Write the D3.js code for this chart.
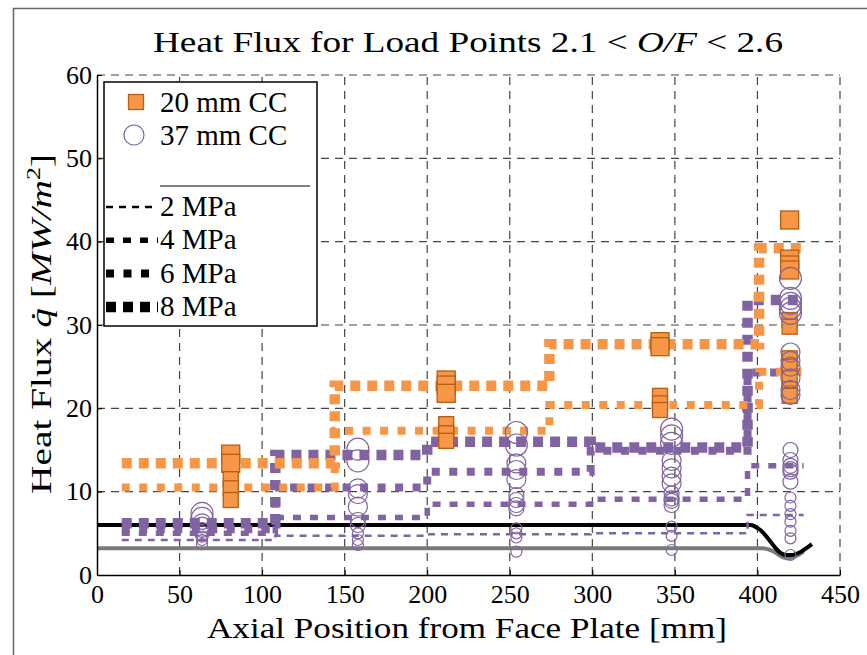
<!DOCTYPE html>
<html>
<head>
<meta charset="utf-8">
<script src="https://cdn.jsdelivr.net/npm/d3@7"></script>
<style>
body { margin: 0; background: #fff; }
text { font-family: "Liberation Serif", "Times New Roman", serif; fill: #000; }
</style>
</head>
<body>
<div id="chart"></div>
<script>
// section boundaries of the step lines [mm]
const purpleSteps = [15, 108, 200, 299, 394, 428]
const orangeSteps = [15, 144, 274, 401, 428]

// 37 mm CC, heat flux per section [MW/m2]
const purple2MPa = [4.2, 4.7, 4.9, 5.0, 7.2]
const purple4MPa = [5.0, 6.9, 8.5, 9.1, 13.1]
const purple6MPa = [5.5, 10.5, 12.4, 14.9, 24.3]
const purple8MPa = [6.2, 14.4, 16.0, 15.3, 33.0]

// 20 mm CC, heat flux per section
const orange6MPa = [10.5, 17.3, 20.4, 24.4]
const orange8MPa = [13.4, 22.7, 27.7, 39.2]

// solid lines at the bottom
const blackX = [0, 396, 401, 417, 420, 433]
const blackQ = [6.0, 6.0, 5.5, 2.4, 2.4, 3.7]
const grayX = [0, 403, 409, 416, 419, 428]
const grayQ = [3.2, 3.2, 2.9, 2.1, 2.0, 2.8]

// measured points 20 mm CC (squares)
const sqX = [81, 81, 81, 81, 81, 211.5, 211.5, 211.5, 211.5, 211.5, 211.5, 341, 341, 341, 341, 341,
  419.5, 419.5, 419.5, 419.5, 419.5, 419.5, 419.5, 419.5, 419.5, 419.5, 419.5]
const sqQ = [14.5, 13.4, 11.5, 10.4, 9.0, 23.4, 22.8, 21.8, 18.1, 17.0, 16.1, 28.0, 27.4, 21.5, 20.6, 19.8,
  42.6, 37.9, 37.2, 36.6, 30.6, 29.8, 26.0, 25.0, 23.6, 22.3, 21.5]
const sqP = [8, 8, 6, 6, 6, 8, 8, 8, 6, 6, 6, 8, 8, 6, 6, 6,
  8, 8, 8, 8, 6, 6, 6, 6, 6, 6, 6]

// measured points 37 mm CC (circles)
const circX = [63.6, 63.6, 63.6, 63.6, 63.6, 63.6, 63.6, 63.6, 63.6,
  158, 158, 158, 158, 158, 158, 158, 158, 158, 158,
  254, 254, 254, 254, 254, 254, 254, 254, 254, 254, 254, 254, 254,
  348, 348, 348, 348, 348, 348, 348, 348, 348, 348, 348, 348, 348, 348,
  420, 420, 420, 420, 420, 420, 420, 420, 420, 420, 420, 420, 420, 420, 420, 420, 420, 420, 420, 420, 420, 420, 420, 420]
const circQ = [7.4, 6.8, 6.2, 5.8, 5.4, 5.0, 4.6, 4.2, 3.7,
  15.1, 13.7, 10.4, 9.7, 8.2, 6.6, 6.0, 5.0, 4.2, 3.6,
  17.1, 15.6, 13.4, 12.6, 11.5, 9.6, 9.0, 8.4, 8.0, 5.6, 5.0, 4.5, 2.8,
  17.5, 16.7, 15.8, 13.7, 12.8, 11.8, 11.0, 9.8, 9.2, 8.9, 8.4, 5.8, 4.7, 3.0,
  35.6, 33.2, 32.6, 32.0, 31.4, 26.7, 25.7, 25.0, 23.6, 22.2, 21.6, 15.0, 13.8, 13.1, 12.7, 12.4, 11.2,
  9.3, 8.3, 7.3, 6.4, 5.3, 4.4, 2.4]
const circP = [8, 8, 6, 6, 4, 4, 2, 2, 2,
  8, 8, 6, 6, 6, 4, 4, 2, 2, 2,
  8, 8, 6, 6, 6, 4, 4, 4, 4, 2, 2, 2, 2,
  8, 8, 8, 6, 6, 6, 6, 4, 4, 4, 4, 2, 2, 2,
  8, 8, 8, 8, 8, 6, 6, 6, 6, 6, 6, 4, 4, 4, 4, 4, 4,
  2, 2, 2, 2, 2, 2, 2]

const xTicks = [0, 50, 100, 150, 200, 250, 300, 350, 400, 450]
const yTicks = [0, 10, 20, 30, 40, 50, 60]
const pressures = [2, 4, 6, 8]

// ****************** Plotting Part ************************
const width = 867, height = 655
const purple = "#8064a2", orange = "#f79646", orangeEdge = "#b45f12"

// line look per chamber pressure
const lineStyle = {
  2: { w: 2.5, dash: "7,6" },
  4: { w: 5.5, dash: "8,9" },
  6: { w: 8, dash: "8,9.5" },
  8: { w: 10.5, dash: "10,7" }
}

const svg = d3.select("#chart")
  .append("svg")
  .attr("width", width)
  .attr("height", height)

// frame around the figure
svg.append("path")
  .attr("d", "M13.5,656 V8.5 H868")
  .attr("fill", "none")
  .attr("stroke", "#666")
  .attr("stroke-width", 1.5)

const x = d3.scaleLinear().domain([0, 450]).range([97, 840])
const y = d3.scaleLinear().domain([0, 60]).range([575, 75])

// dashed grid
svg.selectAll(".vgrid")
  .data(xTicks.slice(1))
  .join("line")
  .attr("x1", d => x(d)).attr("x2", d => x(d))
  .attr("y1", y(0)).attr("y2", y(60))
  .attr("stroke", "#444").attr("stroke-width", 1.2)
  .attr("stroke-dasharray", "8,6")

svg.selectAll(".hgrid")
  .data(yTicks.slice(1))
  .join("line")
  .attr("x1", x(0)).attr("x2", x(450))
  .attr("y1", d => y(d)).attr("y2", d => y(d))
  .attr("stroke", "#444").attr("stroke-width", 1.2)
  .attr("stroke-dasharray", "8,6")

// solid black and gray lines
const solid = d3.line()
  .x(d => x(d[0]))
  .y(d => y(d[1]))
  .curve(d3.curveMonotoneX)

svg.append("path")
  .attr("d", solid(d3.zip(grayX, grayQ)))
  .attr("fill", "none").attr("stroke", "#7a7a7a").attr("stroke-width", 4)

svg.append("path")
  .attr("d", solid(d3.zip(blackX, blackQ)))
  .attr("fill", "none").attr("stroke", "#000").attr("stroke-width", 4)

// step lines
const step = d3.line()
  .x(d => x(d[0]))
  .y(d => y(d[1]))
  .curve(d3.curveStepAfter)

function stepPoints(steps, vals) {
  var pts = vals.map((v, i) => [steps[i], v])
  pts.push([steps[steps.length - 1], vals[vals.length - 1]])
  return pts
}

const stepLines = [
  { c: purple, p: 2, steps: purpleSteps, v: purple2MPa },
  { c: purple, p: 4, steps: purpleSteps, v: purple4MPa },
  { c: purple, p: 6, steps: purpleSteps, v: purple6MPa },
  { c: purple, p: 8, steps: purpleSteps, v: purple8MPa },
  { c: orange, p: 6, steps: orangeSteps, v: orange6MPa },
  { c: orange, p: 8, steps: orangeSteps, v: orange8MPa }
]

svg.selectAll(".steps")
  .data(stepLines)
  .join("path")
  .attr("d", d => step(stepPoints(d.steps, d.v)))
  .attr("fill", "none")
  .attr("stroke", d => d.c)
  .attr("stroke-width", d => lineStyle[d.p].w)
  .attr("stroke-dasharray", d => lineStyle[d.p].dash)

// squares 20 mm CC
const sqSize = d3.scaleOrdinal().domain([6, 8]).range([15, 18])
svg.selectAll(".sq")
  .data(d3.range(sqX.length))
  .join("rect")
  .attr("x", i => x(sqX[i]) - sqSize(sqP[i]) / 2)
  .attr("y", i => y(sqQ[i]) - sqSize(sqP[i]) / 2)
  .attr("width", i => sqSize(sqP[i]))
  .attr("height", i => sqSize(sqP[i]))
  .attr("fill", orange)
  .attr("stroke", orangeEdge)
  .attr("stroke-width", 1.3)

// circles 37 mm CC
const circR = d3.scaleOrdinal().domain(pressures).range([5.5, 7.5, 9.5, 11])
svg.selectAll(".circ")
  .data(d3.range(circX.length))
  .join("circle")
  .attr("cx", i => x(circX[i]))
  .attr("cy", i => y(circQ[i]))
  .attr("r", i => circR(circP[i]))
  .attr("fill", "none")
  .attr("stroke", purple)
  .attr("stroke-width", 1.2)

// axes
const xAxis = svg.append("g")
  .attr("transform", `translate(0,${y(0)})`)
  .call(d3.axisBottom(x).tickValues(xTicks).tickSize(-5).tickSizeOuter(0).tickPadding(10))
const yAxis = svg.append("g")
  .attr("transform", `translate(${x(0)},0)`)
  .call(d3.axisLeft(y).tickValues(yTicks).tickSize(-5).tickSizeOuter(0).tickPadding(5))

svg.selectAll(".domain").attr("stroke", "#000").attr("stroke-width", 1.5)
svg.selectAll(".tick line").attr("stroke", "#000")
svg.selectAll(".tick text")
  .style("font-family", '"Liberation Serif", serif')
  .style("font-size", "26px")
  .attr("fill", "#000")

// title (the LaTeX font is wider, so stretch to its width)
const title = svg.append("text")
  .attr("x", 468).attr("y", 52)
  .attr("text-anchor", "middle")
  .attr("textLength", 630)
  .attr("lengthAdjust", "spacingAndGlyphs")
  .style("font-size", "29px")
title.append("tspan").text("Heat Flux for Load Points 2.1 < ")
title.append("tspan").style("font-style", "italic").text("O/F")
title.append("tspan").text(" < 2.6")

// axis labels
svg.append("text")
  .attr("x", 467).attr("y", 638)
  .attr("text-anchor", "middle")
  .attr("textLength", 520)
  .attr("lengthAdjust", "spacingAndGlyphs")
  .style("font-size", "29px")
  .text("Axial Position from Face Plate [mm]")

const yLab = svg.append("text")
  .attr("transform", "translate(51,324) rotate(-90)")
  .attr("text-anchor", "middle")
  .attr("textLength", 340)
  .attr("lengthAdjust", "spacingAndGlyphs")
  .style("font-size", "29px")
yLab.append("tspan").text("Heat Flux ")
yLab.append("tspan").style("font-style", "italic").text("q\u0307")
yLab.append("tspan").text(" [")
yLab.append("tspan").style("font-style", "italic").text("MW/m")
yLab.append("tspan").attr("dy", -11).style("font-size", "19px").text("2")
yLab.append("tspan").attr("dy", 11).text("]")

// adding legend
const leg = svg.append("g")
leg.append("rect")
  .attr("x", 104).attr("y", 82).attr("width", 213).attr("height", 244)
  .attr("fill", "#fff").attr("stroke", "#000").attr("stroke-width", 1.5)

leg.append("rect")
  .attr("x", 128.5).attr("y", 94.5).attr("width", 15).attr("height", 15)
  .attr("fill", orange).attr("stroke", orangeEdge).attr("stroke-width", 1.3)
leg.append("text").attr("x", 160).attr("y", 112).style("font-size", "29px").text("20 mm CC")

leg.append("circle")
  .attr("cx", 134).attr("cy", 135).attr("r", 10)
  .attr("fill", "none").attr("stroke", purple).attr("stroke-width", 1.2)
leg.append("text").attr("x", 160).attr("y", 145).style("font-size", "29px").text("37 mm CC")

leg.append("line")
  .attr("x1", 160).attr("x2", 310).attr("y1", 186).attr("y2", 186)
  .attr("stroke", "#000").attr("stroke-width", 1.2)

leg.selectAll(".pline")
  .data(pressures)
  .join("line")
  .attr("x1", 106).attr("x2", 158)
  .attr("y1", (d, i) => 207 + i * 33.3).attr("y2", (d, i) => 207 + i * 33.3)
  .attr("stroke", "#000")
  .attr("stroke-width", d => lineStyle[d].w)
  .attr("stroke-dasharray", d => lineStyle[d].dash)

leg.selectAll(".ptext")
  .data(pressures)
  .join("text")
  .attr("x", 160)
  .attr("y", (d, i) => 216 + i * 33.3)
  .style("font-size", "29px")
  .text(d => d + " MPa")
</script>
</body>
</html>
